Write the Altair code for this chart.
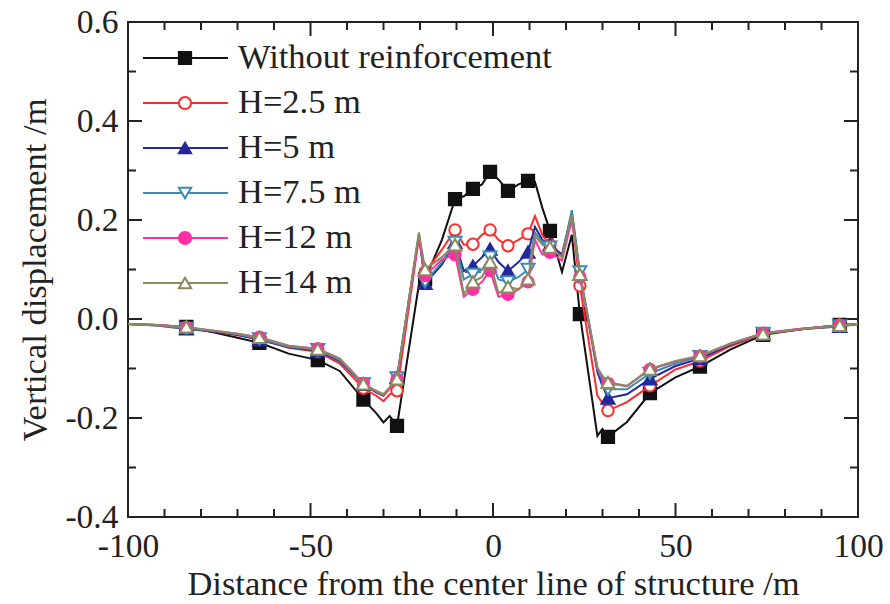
import altair as alt
import pandas as pd

# ---------------- data ----------------
SERIES = ["Without reinforcement", "H=2.5 m", "H=5 m", "H=7.5 m", "H=12 m", "H=14 m"]

X = [-100, -92, -84, -76, -70, -64, -56, -48, -42, -35.5,
     -32, -30, -28.3, -26.3, -20.3, -18.6, -14, -10.4, -8, -5.5,
     -3, -0.8, 1.5, 4.1, 7, 9.6, 11.5, 13.5, 15.6, 18.9,
     21.6, 23.8, 28.6, 30, 31.5, 36.7, 43, 50, 56.7, 65,
     74, 85, 95, 100]

Y_NONE = [-0.010, -0.012, -0.016, -0.028, -0.038, -0.048, -0.070, -0.083, -0.105, -0.163,
          -0.190, -0.209, -0.196, -0.216, 0.070, 0.080, 0.160, 0.242, 0.248, 0.263,
          0.272, 0.297, 0.282, 0.259, 0.272, 0.279, 0.277, 0.225, 0.178, 0.095,
          0.170, 0.010, -0.236, -0.222, -0.238, -0.208, -0.150, -0.118, -0.096, -0.062,
          -0.032, -0.020, -0.012, -0.010]

Y_H25 = [-0.010, -0.012, -0.018, -0.026, -0.033, -0.040, -0.058, -0.066, -0.090, -0.140,
         -0.155, -0.166, -0.152, -0.145, 0.165, 0.095, 0.140, 0.180, 0.150, 0.151,
         0.170, 0.180, 0.160, 0.148, 0.160, 0.172, 0.208, 0.170, 0.150, 0.130,
         0.210, 0.067, -0.155, -0.170, -0.185, -0.168, -0.135, -0.102, -0.085, -0.055,
         -0.030, -0.020, -0.012, -0.010]

Y_H5 = [-0.010, -0.013, -0.020, -0.026, -0.032, -0.042, -0.057, -0.064, -0.085, -0.132,
        -0.148, -0.155, -0.140, -0.118, 0.170, 0.072, 0.110, 0.155, 0.097, 0.107,
        0.125, 0.141, 0.115, 0.097, 0.115, 0.135, 0.186, 0.160, 0.150, 0.130,
        0.215, 0.090, -0.107, -0.135, -0.160, -0.152, -0.121, -0.095, -0.080, -0.052,
        -0.030, -0.020, -0.015, -0.010]

Y_H75 = [-0.010, -0.013, -0.019, -0.025, -0.031, -0.040, -0.056, -0.062, -0.083, -0.131,
         -0.146, -0.153, -0.139, -0.119, 0.172, 0.075, 0.115, 0.155, 0.080, 0.090,
         0.100, 0.125, 0.080, 0.075, 0.085, 0.100, 0.175, 0.155, 0.145, 0.125,
         0.220, 0.095, -0.100, -0.125, -0.142, -0.142, -0.110, -0.090, -0.076, -0.050,
         -0.029, -0.019, -0.014, -0.010]

Y_H12 = [-0.010, -0.012, -0.017, -0.024, -0.030, -0.037, -0.054, -0.060, -0.080, -0.130,
         -0.146, -0.154, -0.140, -0.122, 0.165, 0.088, 0.120, 0.130, 0.045, 0.060,
         0.075, 0.098, 0.045, 0.050, 0.060, 0.075, 0.160, 0.130, 0.135, 0.118,
         0.200, 0.085, -0.100, -0.118, -0.130, -0.136, -0.102, -0.086, -0.075, -0.050,
         -0.029, -0.019, -0.013, -0.010]

Y_H14 = [-0.010, -0.012, -0.016, -0.024, -0.030, -0.037, -0.054, -0.061, -0.080, -0.131,
         -0.145, -0.152, -0.138, -0.121, 0.175, 0.100, 0.125, 0.150, 0.050, 0.075,
         0.085, 0.115, 0.052, 0.065, 0.060, 0.081, 0.168, 0.150, 0.145, 0.125,
         0.210, 0.090, -0.098, -0.115, -0.128, -0.135, -0.101, -0.085, -0.074, -0.050,
         -0.030, -0.020, -0.013, -0.010]

MARKER_X = [-84, -64, -48, -35.5, -26.3, -18.6, -10.4, -5.5, -0.8, 4.1, 9.6,
            15.6, 23.8, 31.5, 43, 56.7, 74, 95]

X_MAJOR = [-100, -50, 0, 50, 100]
X_MINOR = [-90, -80, -70, -60, -40, -30, -20, -10, 10, 20, 30, 40, 60, 70, 80, 90]
Y_MAJOR = [-0.4, -0.2, 0.0, 0.2, 0.4, 0.6]
Y_MINOR = [-0.3, -0.1, 0.1, 0.3, 0.5]

ALL_Y = [Y_NONE, Y_H25, Y_H5, Y_H75, Y_H12, Y_H14]

# ---------------- styles ----------------
COLORS = ["#111111", "#ff2b2b", "#24279c", "#3a8cb0", "#ff2fa6", "#8c8a5c"]
FILLS = ["#111111", "#ffffff", "#24279c", "#ffffff", "#ff2fa6", "#ffffff"]
SHAPES = ["square", "circle", "triangle-up", "triangle-down", "circle", "triangle-up"]
SIZES = [150, 130, 170, 170, 130, 170]

W, H = 730, 495
FONT = "Liberation Serif"
TXT = "#222222"

xscale = alt.Scale(domain=[-100, 100], nice=False, zero=False)
yscale = alt.Scale(domain=[-0.4, 0.6], nice=False, zero=False)

xaxis = alt.Axis(values=X_MAJOR, title="Distance from the center line of structure /m",
                 labelExpr="datum.value < 0 ? '-' + format(-datum.value, 'd') : format(datum.value, 'd')",
                 ticks=False, domain=False, grid=False, labelPadding=13, titlePadding=5,
                 labelFlush=False)
yaxis = alt.Axis(values=Y_MAJOR, title="Vertical displacement /m",
                 labelExpr="datum.value < 0 ? '-' + format(-datum.value, '.1f') : format(datum.value, '.1f')",
                 ticks=False, domain=False, grid=False, labelPadding=10, titlePadding=12,
                 labelFlush=False)

XE = alt.X("x:Q", scale=xscale, axis=xaxis)
YE = alt.Y("y:Q", scale=yscale, axis=yaxis)

layers = []
for i, name in enumerate(SERIES):
    df = pd.DataFrame({"x": X, "y": ALL_Y[i]})
    df["m"] = df["x"].isin(MARKER_X)
    line = alt.Chart(df).mark_line(color=COLORS[i], strokeWidth=2).encode(x=XE, y=YE)
    pts = alt.Chart(df[df["m"]]).mark_point(
        shape=SHAPES[i], size=SIZES[i], filled=True, fill=FILLS[i],
        stroke=COLORS[i], strokeWidth=2, opacity=1
    ).encode(x=XE, y=YE)
    layers += [line, pts]

# inward ticks on all four sides
def xticks(vals, length):
    d = pd.DataFrame({"x": vals})
    b = alt.Chart(d).mark_rule(color="#222", strokeWidth=2).encode(
        x=XE, y=alt.value(H), y2=alt.value(H - length))
    t = alt.Chart(d).mark_rule(color="#222", strokeWidth=2).encode(
        x=XE, y=alt.value(0), y2=alt.value(length))
    return [b, t]

def yticks(vals, length):
    d = pd.DataFrame({"y": vals})
    l = alt.Chart(d).mark_rule(color="#222", strokeWidth=2).encode(
        y=YE, x=alt.value(0), x2=alt.value(length))
    r = alt.Chart(d).mark_rule(color="#222", strokeWidth=2).encode(
        y=YE, x=alt.value(W), x2=alt.value(W - length))
    return [l, r]

tick_layers = xticks(X_MAJOR, 14) + xticks(X_MINOR, 8) + yticks(Y_MAJOR, 14) + yticks(Y_MINOR, 8)

data_part = alt.layer(*tick_layers, *layers)

# legend (top-left, inside plot)
leg = pd.DataFrame({"series": SERIES})
LY = alt.Y("series:N", scale=alt.Scale(type="point", domain=SERIES, range=[36, 261], padding=0), axis=None)
leg_line = alt.Chart(leg).mark_rule(strokeWidth=2).encode(
    x=alt.value(15), x2=alt.value(100), y=LY,
    color=alt.Color("series:N", scale=alt.Scale(domain=SERIES, range=COLORS), legend=None))
leg_pt = alt.Chart(leg).mark_point(filled=True, size=150, strokeWidth=2, opacity=1).encode(
    x=alt.value(57), y=LY,
    shape=alt.Shape("series:N", scale=alt.Scale(domain=SERIES, range=SHAPES), legend=None),
    fill=alt.Fill("series:N", scale=alt.Scale(domain=SERIES, range=FILLS), legend=None),
    stroke=alt.Stroke("series:N", scale=alt.Scale(domain=SERIES, range=COLORS), legend=None))
leg_txt = alt.Chart(leg).mark_text(align="left", baseline="middle", font=FONT, fontSize=34.5,
                                   color=TXT).encode(x=alt.value(110), y=LY, text="series:N")

chart = alt.layer(data_part, leg_line, leg_pt, leg_txt).resolve_scale(
    y="independent", color="independent", shape="independent", fill="independent", stroke="independent"
).properties(
    width=W, height=H,
    autosize=alt.AutoSizeParams(type="none"),
    padding={"left": 128, "top": 22, "right": 32, "bottom": 87},
    background="white",
).configure_view(stroke="#222222", strokeWidth=2).configure_axis(
    labelFont=FONT, labelFontSize=33.5, labelColor=TXT,
    titleFont=FONT, titleFontSize=34.5, titleFontWeight="normal", titleColor=TXT,
)

chart.save("out.html", embed_options={"renderer": "svg", "actions": False})
